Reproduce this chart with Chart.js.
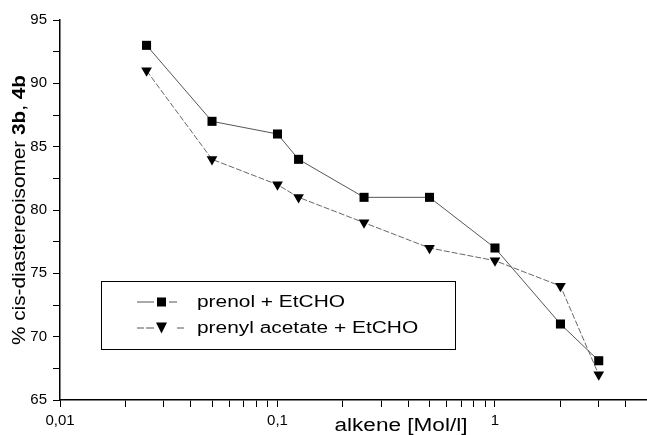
<!DOCTYPE html>
<html>
<head>
<meta charset="utf-8">
<script src="https://cdn.jsdelivr.net/npm/chart.js@4.4.1/dist/chart.umd.min.js"></script>
<style>
  html, body { margin: 0; padding: 0; background: #fff; }
  canvas { display: block; }
</style>
</head>
<body>
<canvas id="theChart" width="647" height="435"></canvas>
<script>
// alkene concentration [Mol/l]
const concentrations = [0.025, 0.05, 0.1, 0.125, 0.25, 0.5, 1, 2, 3];
// % cis-diastereoisomer
const prenolValues = [93, 87, 86, 84, 81, 81, 77, 71, 68.1];
const prenylAcetateValues = [91, 84, 82, 81, 79, 77, 76, 74, 67];

const seriesNames = ['prenol + EtCHO', 'prenyl acetate + EtCHO'];

const xTicks = [0.01, 0.02, 0.03, 0.04, 0.05, 0.06, 0.07, 0.08, 0.09,
                0.1, 0.2, 0.3, 0.4, 0.5, 0.6, 0.7, 0.8, 0.9,
                1, 2, 3, 4, 5];
const xLabeledTicks = [0.01, 0.1, 1];
const xTickLabels = ['0,01', '0,1', '1'];

const fontName = '"Liberation Sans", Arial, sans-serif';

// draws text squeezed/stretched to a given width (the scan is wider than Arial)
function stretchedText(ctx, parts, x, y, width, align) {
  let total = 0;
  parts.forEach(p => { ctx.font = p.font; total += ctx.measureText(p.text).width; });
  const sx = width / total;
  ctx.save();
  ctx.translate(x, y);
  ctx.scale(sx, 1);
  let cx = align === 'center' ? -total / 2 : 0;
  ctx.textBaseline = 'middle';
  ctx.textAlign = 'left';
  parts.forEach(p => {
    ctx.font = p.font;
    ctx.fillText(p.text, cx, 0);
    cx += ctx.measureText(p.text).width;
  });
  ctx.restore();
}

// the plot runs right up to the edge of the picture
const fullWidthPlugin = {
  id: 'fullWidth',
  afterLayout(chart) {
    const right = chart.width;
    const area = chart.chartArea;
    area.right = right;
    area.width = right - area.left;
    const xs = chart.scales.x;
    xs.right = right;
    xs.width = right - xs.left;
    xs.configure();
  }
};

const extrasPlugin = {
  id: 'extras',
  afterDraw(chart) {
    const ctx = chart.ctx;
    const xScale = chart.scales.x;
    ctx.save();
    ctx.fillStyle = '#000';

    // x tick labels
    ctx.font = '15px ' + fontName;
    ctx.textAlign = 'center';
    ctx.textBaseline = 'middle';
    xLabeledTicks.forEach((v, i) => {
      ctx.fillText(xTickLabels[i], xScale.getPixelForValue(v), 421);
    });

    // axis titles
    stretchedText(ctx, [{text: 'alkene [Mol/l]', font: '18px ' + fontName}], 401, 426, 133, 'center');

    ctx.save();
    ctx.translate(20, 210);
    ctx.rotate(-Math.PI / 2);
    stretchedText(ctx, [
      {text: '% cis-diastereoisomer ', font: '18px ' + fontName},
      {text: '3b', font: 'bold 18px ' + fontName},
      {text: ', ', font: '18px ' + fontName},
      {text: '4b', font: 'bold 18px ' + fontName}
    ], 0, 0, 270, 'center');
    ctx.restore();

    // legend box
    ctx.strokeStyle = '#000';
    ctx.lineWidth = 1;
    ctx.strokeRect(101.5, 281.5, 354, 68);

    const rows = [302, 328];
    ctx.strokeStyle = '#555';
    // prenol row: solid line with square
    ctx.beginPath();
    ctx.moveTo(137, rows[0]); ctx.lineTo(154, rows[0]);
    ctx.moveTo(169, rows[0]); ctx.lineTo(177, rows[0]);
    ctx.stroke();
    ctx.fillStyle = '#000';
    ctx.fillRect(157, rows[0] - 4.5, 9, 9);
    // prenyl acetate row: dashed line with triangle
    ctx.beginPath();
    ctx.moveTo(137, rows[1]); ctx.lineTo(144, rows[1]);
    ctx.moveTo(146, rows[1]); ctx.lineTo(154, rows[1]);
    ctx.moveTo(177, rows[1]); ctx.lineTo(184, rows[1]);
    ctx.stroke();
    ctx.beginPath();
    ctx.moveTo(156, rows[1] - 5.5);
    ctx.lineTo(167, rows[1] - 5.5);
    ctx.lineTo(161.5, rows[1] + 5.5);
    ctx.closePath();
    ctx.fill();

    ctx.font = '16px ' + fontName;
    const sx = 148 / ctx.measureText(seriesNames[0]).width;
    seriesNames.forEach((name, i) => {
      ctx.font = '16px ' + fontName;
      stretchedText(ctx, [{text: name, font: '16px ' + fontName}], 197, rows[i] + 1, ctx.measureText(name).width * sx, 'left');
    });
    ctx.restore();
  }
};

new Chart(document.getElementById('theChart'), {
  type: 'line',
  data: {
    datasets: [
      {
        label: seriesNames[0],
        data: concentrations.map((x, i) => ({x: x, y: prenolValues[i]})),
        borderColor: '#555',
        borderWidth: 1,
        pointStyle: 'rect',
        pointRadius: 6.4,
        pointBackgroundColor: '#000',
        pointBorderColor: '#000',
        pointBorderWidth: 0,
        tension: 0
      },
      {
        label: seriesNames[1],
        data: concentrations.map((x, i) => ({x: x, y: prenylAcetateValues[i]})),
        borderColor: '#666',
        borderWidth: 1,
        borderDash: [6, 2],
        pointStyle: 'triangle',
        pointRotation: 180,
        pointRadius: 6.2,
        pointBackgroundColor: '#000',
        pointBorderColor: '#000',
        pointBorderWidth: 0,
        tension: 0
      }
    ]
  },
  options: {
    responsive: false,
    animation: false,
    layout: { padding: { top: 20, left: 0, right: 0, bottom: 0 } },
    plugins: { legend: { display: false }, tooltip: { enabled: false } },
    scales: {
      x: {
        type: 'logarithmic',
        min: 0.01,
        max: 5,
        afterBuildTicks: scale => { scale.ticks = xTicks.map(v => ({value: v})); },
        afterFit: scale => { scale.height = 35; },
        grid: { display: true, drawOnChartArea: false, drawTicks: true, tickLength: 7, color: '#000' },
        border: { display: true, color: '#000', width: 1.5 },
        ticks: { display: false }
      },
      y: {
        min: 65,
        max: 95,
        afterFit: scale => { scale.width = 60; },
        grid: { display: true, drawOnChartArea: false, drawTicks: true, tickLength: 7, color: '#000' },
        border: { display: true, color: '#000', width: 1.5 },
        ticks: {
          stepSize: 2.5,
          padding: 6,
          color: '#000',
          font: { family: fontName, size: 15 },
          callback: value => (value % 5 === 0 ? value : '')
        }
      }
    }
  },
  plugins: [fullWidthPlugin, extrasPlugin]
});
</script>
</body>
</html>
